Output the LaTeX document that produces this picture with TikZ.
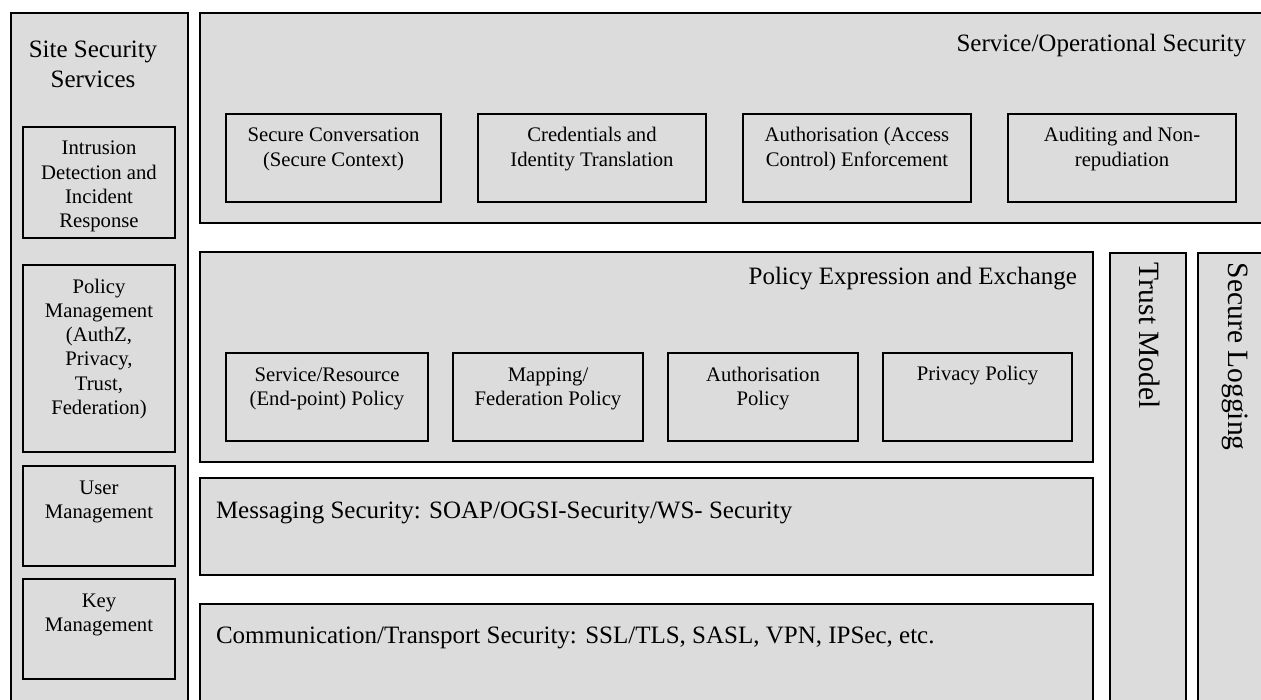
\documentclass[tikz,border=0pt]{standalone}
\usepackage{fontspec}
\setmainfont{Liberation Serif}
\usetikzlibrary{fit}
\definecolor{boxgray}{RGB}{220,220,220}
\begin{document}
\begin{tikzpicture}[x=1pt,y=-1pt,
  panel/.style={draw=black, line width=1.8pt, fill=boxgray, inner sep=0pt, outer sep=0pt},
  subbox/.style={draw=black, line width=1.4pt, fill=boxgray, inner sep=0pt, outer sep=0pt},
  bigtext/.style={font=\fontsize{25}{29.5}\selectfont, inner sep=0pt, outer sep=0pt},
  subtext/.style={font=\fontsize{20.7}{24.3}\selectfont, inner sep=0pt, outer sep=0pt, align=center, anchor=north},
  vtext/.style={font=\fontsize{29.5}{34}\selectfont, inner sep=0pt, outer sep=0pt, rotate=-90, anchor=base west}]
\useasboundingbox (0,0) rectangle (1261,700);
\clip (0,0) rectangle (1261,700);
\fill[white] (0,0) rectangle (1261,700);
\newcommand{\firstline}{\rule{0pt}{15pt}}

% ---- site security column ----
\node[panel, fit={(11,13) (188,720)}] (site) {};
\node[bigtext, align=center, anchor=north] (sitetitle) at (93,40) {\rule{0pt}{18pt}Site Security\\Services};
\node[subbox, fit={(23,127) (175,238)}] (ids) {};
\node[subbox, fit={(23,265) (175,452)}] (pm) {};
\node[subbox, fit={(23,466) (175,566)}] (um) {};
\node[subbox, fit={(23,579) (175,679)}] (km) {};
\node[subtext] (idst) at ([yshift=-13pt]ids.north) {\firstline Intrusion\\Detection and\\Incident\\Response};
\node[subtext] (pmt) at ([yshift=-13pt]pm.north) {\firstline Policy\\Management\\(AuthZ,\\Privacy,\\Trust,\\Federation)};
\node[subtext] (umt) at ([yshift=-13pt]um.north) {\firstline User\\Management};
\node[subtext] (kmt) at ([yshift=-13pt]km.north) {\firstline Key\\Management};

% ---- service / operational security ----
\node[panel, fit={(200,13) (1280,223)}] (svc) {};
\node[bigtext, anchor=base east] (svct) at (1246,52) {Service/Operational Security};
\node[subbox, fit={(226,114) (441,202)}] (sc) {};
\node[subbox, fit={(478,114) (706,202)}] (cr) {};
\node[subbox, fit={(743,114) (971,202)}] (az) {};
\node[subbox, fit={(1008,114) (1236,202)}] (au) {};
\node[subtext] (sct) at ([yshift=-13pt]sc.north) {\firstline Secure Conversation\\(Secure Context)};
\node[subtext] (crt) at ([yshift=-13pt]cr.north) {\firstline Credentials and\\Identity Translation};
\node[subtext] (azt) at ([yshift=-13pt]az.north) {\firstline Authorisation (Access\\Control) Enforcement};
\node[subtext] (aut) at ([yshift=-13pt]au.north) {\firstline Auditing and Non-\\repudiation};

% ---- policy expression and exchange ----
\node[panel, fit={(200,252) (1093,462)}] (pol) {};
\node[bigtext, anchor=base east] (polt) at (1077,285) {Policy Expression and Exchange};
\node[subbox, fit={(226,353) (428,441)}] (sr) {};
\node[subbox, fit={(453,353) (643,441)}] (mf) {};
\node[subbox, fit={(668,353) (858,441)}] (ap) {};
\node[subbox, fit={(883,353) (1072,441)}] (pp) {};
\node[subtext] (srt) at ([yshift=-13pt]sr.north) {\firstline Service/Resource\\(End-point) Policy};
\node[subtext] (mft) at ([yshift=-13pt]mf.north) {\firstline Mapping/\\Federation Policy};
\node[subtext] (apt) at ([yshift=-13pt]ap.north) {\firstline Authorisation\\Policy};
\node[subtext] (ppt) at ([yshift=-13pt]pp.north) {\firstline Privacy Policy};

% ---- messaging and transport layers ----
\node[panel, fit={(200,478) (1093,575)}] (msg) {};
\node[bigtext, anchor=base west] (msgt) at (216,518) {Messaging Security: SOAP/OGSI-Security/WS- Security};
\node[panel, fit={(200,604) (1093,720)}] (com) {};
\node[bigtext, anchor=base west] (comt) at (216,643) {Communication/Transport Security: SSL/TLS, SASL, VPN, IPSec, etc.};

% ---- vertical columns ----
\node[panel, fit={(1110,253) (1186,720)}] (trust) {};
\node[vtext] (trustt) at (1139,263) {Trust Model};
\node[panel, fit={(1198,253) (1280,720)}] (log) {};
\node[vtext] (logt) at (1228,263) {Secure Logging};
\end{tikzpicture}
\end{document}
